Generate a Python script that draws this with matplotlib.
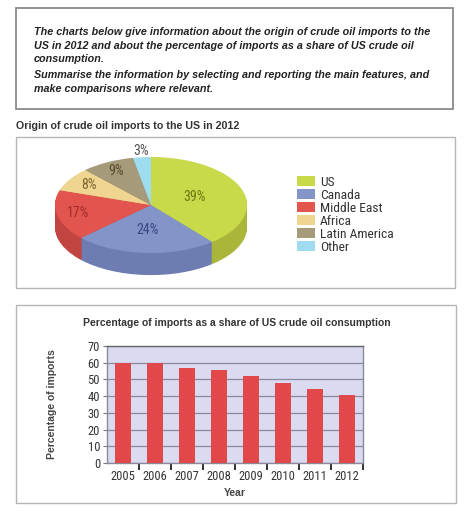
import matplotlib
matplotlib.use("Agg")
import matplotlib.pyplot as plt
from matplotlib.patches import Rectangle
import numpy as np

# pie data
regions = ["US", "Canada", "Middle East", "Africa", "Latin America", "Other"]
shares = [39, 24, 17, 8, 9, 3]
pie_colors = ["#c8d94a", "#8394c8", "#e2554f", "#efd590", "#a59b7a", "#9fdcf0"]
side_colors = ["#a9b63a", "#6d7db2", "#c24440", "#cfb774", "#877e60", "#80c0d6"]
label_colors = ["#6b7a14", "#3a4785", "#a32b2b", "#7d6530", "#5a4a30", "#555555"]

# bar data
years = ["2005", "2006", "2007", "2008", "2009", "2010", "2011", "2012"]
import_share = [60, 60, 57, 55.5, 52, 48, 44, 40.5]

W, H = 471, 512
fig = plt.figure(figsize=(W / 100, H / 100), dpi=100)
fig.patch.set_facecolor("white")

narrow = ["Roboto Condensed", "DejaVu Sans"]


def fx(px):
    return px / W


def fy(py):
    return 1 - py / H


def box(x0, y0, x1, y1, ec, lw):
    fig.patches.append(Rectangle((fx(x0), fy(y1)), fx(x1 - x0), (y1 - y0) / H,
                                 transform=fig.transFigure, fill=False,
                                 edgecolor=ec, linewidth=lw))


# task text box
box(16, 8, 453, 109, "#8a8a8a", 1.3)
lines = [
    (32, "The charts below give information about the origin of crude oil imports to the"),
    (46, "US in 2012 and about the percentage of imports as a share of US crude oil"),
    (59, "consumption."),
    (75, "Summarise the information by selecting and reporting the main features, and"),
    (89, "make comparisons where relevant."),
]
for py, s in lines:
    fig.text(fx(34), fy(py), s, fontsize=7.75, fontweight="bold", fontstyle="italic",
             family="Liberation Sans", color="#222222", va="center", ha="left")

fig.text(fx(16), fy(126), "Origin of crude oil imports to the US in 2012", fontsize=7.7,
         fontweight="bold", family="Liberation Sans", color="#333333", va="center")

# pie panel
box(16, 137, 455, 288, "#b5b5b5", 1.0)
cx, cy, rx, ry = 151, 205, 96, 48
ax_p = fig.add_axes([fx(cx - 1.2 * rx), fy(cy + 1.8 * ry), 2.4 * rx / W, 3.1 * ry / H])
depth = 0.46
steps = 30
for k in range(steps, 0, -1):
    ax_p.pie(shares, colors=side_colors, startangle=90, counterclock=False,
             center=(0, -depth * k / steps), wedgeprops=dict(linewidth=0))
wedges, _ = ax_p.pie(shares, colors=pie_colors, startangle=90, counterclock=False,
                     wedgeprops=dict(linewidth=0))
ax_p.set_aspect("auto")
ax_p.set_xlim(-1.2, 1.2)
ax_p.set_ylim(-1.8, 1.3)
ax_p.axis("off")

label_r = [0.48, 0.52, 0.78, 0.76, 0.8, 1.13]
for w, v, r, c in zip(wedges, shares, label_r, label_colors):
    a = np.deg2rad((w.theta1 + w.theta2) / 2)
    ax_p.text(r * np.cos(a), r * np.sin(a), f"{v}%", ha="center", va="center",
              fontsize=10, family=narrow, color=c)

fig.legend(wedges, regions, loc="upper left", bbox_to_anchor=(fx(297), fy(176)),
           frameon=False, prop=dict(family=narrow, size=9.7), labelcolor="#333333",
           handlelength=1.3, handleheight=0.75, handletextpad=0.4,
           labelspacing=0.0, borderaxespad=0, borderpad=0)

# bar panel
box(16, 305, 456, 503, "#b5b5b5", 1.0)
ax_b = fig.add_axes([fx(107), fy(463), 256 / W, 117 / H])
ax_b.set_facecolor("#dadaf0")
x = np.arange(len(years))
ax_b.bar(x, import_share, width=0.5, color="#e2474a", zorder=3)
ax_b.set_xlim(-0.5, len(years) - 0.5)
ax_b.set_ylim(0, 70)
ax_b.set_yticks(range(0, 71, 10))
ax_b.yaxis.grid(True, color="#8a8a9c", linewidth=0.9, zorder=1)
ax_b.set_xticks(x + 0.5)
ax_b.set_xticklabels([])
ax_b.set_xticks(x, minor=True)
ax_b.set_xticklabels(years, minor=True)
ax_b.tick_params(axis="x", which="major", length=5, width=1.3, color="#222222", direction="out")
ax_b.tick_params(axis="x", which="minor", length=0, pad=5, labelsize=9, labelcolor="#333333")
ax_b.tick_params(axis="y", length=3, width=0.8, color="#777777", labelsize=9,
                 labelcolor="#333333", pad=2)
for lab in ax_b.get_xticklabels(minor=True) + ax_b.get_yticklabels():
    lab.set_family(narrow)
for side in ["top", "left", "right", "bottom"]:
    ax_b.spines[side].set_color("#8a8a9c")
    ax_b.spines[side].set_linewidth(1.0)
ax_b.spines["top"].set_color("#666670")
ax_b.set_xlabel("Year", fontsize=7.5, fontweight="bold", family="Liberation Sans",
                color="#444444", labelpad=4)
ax_b.set_ylabel("Percentage of imports", fontsize=7.5, fontweight="bold",
                family="Liberation Sans", color="#444444", labelpad=22)
fig.text(fx(237), fy(323), "Percentage of imports as a share of US crude oil consumption",
         fontsize=7.5, fontweight="bold", family="Liberation Sans", color="#333333",
         ha="center", va="center")

fig.savefig("out.png", dpi=100)
